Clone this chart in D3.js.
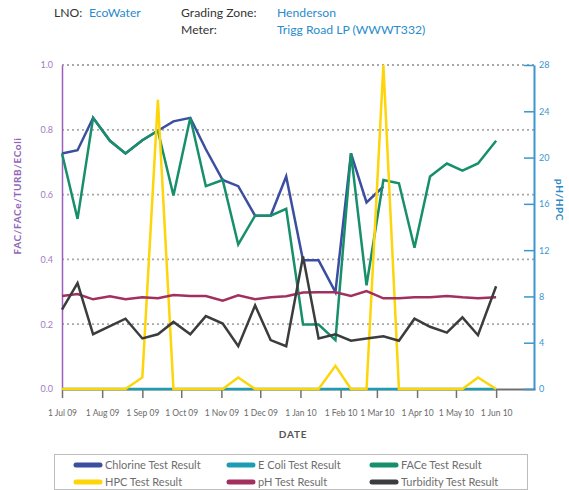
<!DOCTYPE html>
<html>
<head>
<meta charset="utf-8">
<script src="https://cdn.jsdelivr.net/npm/d3@7"></script>
<style>
  body { margin: 0; background: #fff; }
  svg { font-family: Lato, "Open Sans", sans-serif; }
</style>
</head>
<body>
<svg width="569" height="490"></svg>
<script>
// sample dates (roughly every 12-13 days)
const dates = ["2009-07-01","2009-07-13","2009-07-25","2009-08-07","2009-08-19","2009-09-01",
  "2009-09-13","2009-09-25","2009-10-08","2009-10-20","2009-11-02","2009-11-14","2009-11-27",
  "2009-12-09","2009-12-21","2010-01-03","2010-01-15","2010-01-28","2010-02-09","2010-02-21",
  "2010-03-06","2010-03-18","2010-03-30","2010-04-11","2010-04-24","2010-05-06","2010-05-18",
  "2010-06-01"];

// left axis series
const chlorine = [0.727,0.737,0.837,0.766,0.727,0.768,0.797,0.826,0.837,0.74,0.645,0.626,0.535,
  0.535,0.656,0.397,0.397,0.299,0.727,0.576,0.625];
const ecoli = [0,0,0,0,0,0,0,0,0,0,0,0,0,0,0,0,0,0,0,0,0,0,0,0,0,0,0,0];
const face = [0.727,0.525,0.837,0.766,0.727,0.768,0.797,0.597,0.837,0.626,0.645,0.446,0.535,
  0.535,0.556,0.199,0.199,0.151,0.727,0.32,0.645,0.635,0.436,0.656,0.696,0.674,0.696,0.766];
const turbidity = [0.245,0.327,0.169,0.194,0.217,0.156,0.169,0.207,0.169,0.225,0.202,0.132,0.258,
  0.151,0.132,0.409,0.156,0.169,0.149,0.156,0.163,0.149,0.217,0.192,0.174,0.221,0.166,0.317];

// right axis series
const hpc = [0,0,0,0,0,1,25,0,0,0,0,1,0,0,0,0,0,2,0,0,28,0,0,0,0,0,1,0];
const ph = [8.04,8.21,7.75,8.01,7.75,7.92,7.84,8.12,8.04,8.04,7.63,8.09,7.75,7.92,8.01,8.33,
  8.36,8.36,8.04,8.47,7.84,7.84,7.92,7.92,8.04,7.92,7.84,7.92];

const leftTicks = [0, 0.2, 0.4, 0.6, 0.8, 1.0];
const rightTicks = [0, 4, 8, 12, 16, 20, 24, 28];

const series = [
  { name: "Chlorine Test Result", values: chlorine, axis: "left", color: "#3b4ea0" },
  { name: "E Coli Test Result", values: ecoli, axis: "left", color: "#1d9db4" },
  { name: "FACe Test Result", values: face, axis: "left", color: "#178f6b" },
  { name: "HPC Test Result", values: hpc, axis: "right", color: "#fdd508" },
  { name: "pH Test Result", values: ph, axis: "right", color: "#a2305f" },
  { name: "Turbidity Test Result", values: turbidity, axis: "left", color: "#3a3c3e" },
];

const parse = d3.timeParse("%Y-%m-%d");
const dateObjs = dates.map(parse);

const svg = d3.select("svg");
const plotLeft = 62, plotRight = 534, plotTop = 65, plotBottom = 389;

const x = d3.scaleTime()
  .domain([parse("2009-07-01"), parse("2010-07-01")])
  .range([plotLeft, plotRight + 1]);
const yL = d3.scaleLinear().domain([0, 1]).range([plotBottom, plotTop]);
const yR = d3.scaleLinear().domain([0, 28]).range([plotBottom, plotTop]);

// header
const header = svg.append("g").attr("font-size", 12.2);
header.append("text").attr("x", 54).attr("y", 17).attr("fill", "#333").text("LNO:");
header.append("text").attr("x", 89).attr("y", 17).attr("fill", "#2a8ccc").text("EcoWater");
header.append("text").attr("x", 181).attr("y", 17).attr("fill", "#333").text("Grading Zone:");
header.append("text").attr("x", 277).attr("y", 17).attr("fill", "#2a8ccc").text("Henderson");
header.append("text").attr("x", 181).attr("y", 34).attr("fill", "#333").text("Meter:");
header.append("text").attr("x", 277).attr("y", 34).attr("fill", "#2a8ccc").text("Trigg Road LP (WWWT332)");

// gridlines
svg.append("g")
  .selectAll("line")
  .data(leftTicks.filter(d => d > 0))
  .join("line")
  .attr("x1", plotLeft).attr("x2", plotRight)
  .attr("y1", d => yL(d)).attr("y2", d => yL(d))
  .attr("stroke", "#a8a8a8")
  .attr("stroke-width", 1.8)
  .attr("stroke-dasharray", "2,3");

// x axis
const xAxis = svg.append("g")
  .attr("transform", `translate(0,${plotBottom})`)
  .call(d3.axisBottom(x)
    .tickValues(d3.timeMonth.range(parse("2009-07-01"), parse("2010-07-01")))
    .tickFormat(d3.timeFormat("%-d %b %y"))
    .tickSize(9)
    .tickPadding(12)
    .tickSizeOuter(0));
xAxis.select(".domain").attr("stroke", "#707070").attr("stroke-width", 2);
xAxis.selectAll(".tick line").attr("stroke", "#707070").attr("stroke-width", 1.5);
xAxis.selectAll(".tick text").attr("fill", "#6a6a6a").attr("font-size", 8.5)
  .attr("font-family", "Lato, sans-serif");

svg.append("text")
  .attr("x", 293).attr("y", 438)
  .attr("text-anchor", "middle")
  .attr("font-size", 10).attr("font-weight", "bold")
  .attr("letter-spacing", 0.8)
  .attr("fill", "#555")
  .text("DATE");

// left axis
const yAxisL = svg.append("g")
  .attr("transform", `translate(${plotLeft},0)`)
  .call(d3.axisLeft(yL).tickValues(leftTicks).tickFormat(d3.format(".1f"))
    .tickSize(0).tickPadding(9));
yAxisL.select(".domain").attr("stroke", "#9a5fbd").attr("stroke-width", 1.5);
yAxisL.selectAll(".tick text").attr("fill", "#a07cc4").attr("font-size", 9)
  .attr("font-family", "Lato, sans-serif");

svg.append("text")
  .attr("transform", "translate(21,196) rotate(-90)")
  .attr("text-anchor", "middle")
  .attr("font-size", 10).attr("font-weight", "bold")
  .attr("letter-spacing", 0.6)
  .attr("fill", "#9266b8")
  .text("FAC/FACe/TURB/EColi");

// right axis
const yAxisR = svg.append("g")
  .attr("transform", `translate(${plotRight},0)`)
  .call(d3.axisRight(yR).tickValues(rightTicks)
    .tickSize(0).tickPadding(5));
yAxisR.select(".domain").attr("stroke", "#3a96d0").attr("stroke-width", 2);
yAxisR.selectAll(".tick line").attr("x1", -10).attr("x2", 0)
  .attr("stroke", "#3a96d0").attr("stroke-width", 1.5);
yAxisR.selectAll(".tick text").attr("fill", "#3a96d0").attr("font-size", 9)
  .attr("font-family", "Lato, sans-serif");

svg.append("text")
  .attr("transform", "translate(556,200) rotate(90)")
  .attr("text-anchor", "middle")
  .attr("font-size", 10).attr("font-weight", "bold")
  .attr("letter-spacing", 0.6)
  .attr("fill", "#2c87c4")
  .text("pH/HPC");

// lines
const lines = svg.append("g");
series.forEach(s => {
  const y = s.axis === "right" ? yR : yL;
  const line = d3.line()
    .defined((d, i) => s.values[i] != null)
    .x((d, i) => x(dateObjs[i]))
    .y((d, i) => y(s.values[i]));
  lines.append("path")
    .datum(dateObjs)
    .attr("d", line)
    .attr("fill", "none")
    .attr("stroke", s.color)
    .attr("stroke-width", 2.5)
    .attr("stroke-linejoin", "miter");
});

// legend
svg.append("rect")
  .attr("x", 54.5).attr("y", 454.5)
  .attr("width", 473).attr("height", 35)
  .attr("fill", "#fff").attr("stroke", "#bdbdbd");

const colX = [76, 229, 372];
const rowY = [465, 482];
const legend = svg.append("g").selectAll("g")
  .data(series)
  .join("g")
  .attr("transform", (d, i) => `translate(${colX[i % 3]},${rowY[Math.floor(i / 3)]})`);
legend.append("line")
  .attr("x1", 0).attr("x2", 24)
  .attr("stroke", d => d.color)
  .attr("stroke-width", 5)
  .attr("stroke-linecap", "round");
legend.append("text")
  .attr("x", 29).attr("dy", "0.35em")
  .attr("font-size", 11)
  .attr("fill", "#6e6e6e")
  .text(d => d.name);
</script>
</body>
</html>
